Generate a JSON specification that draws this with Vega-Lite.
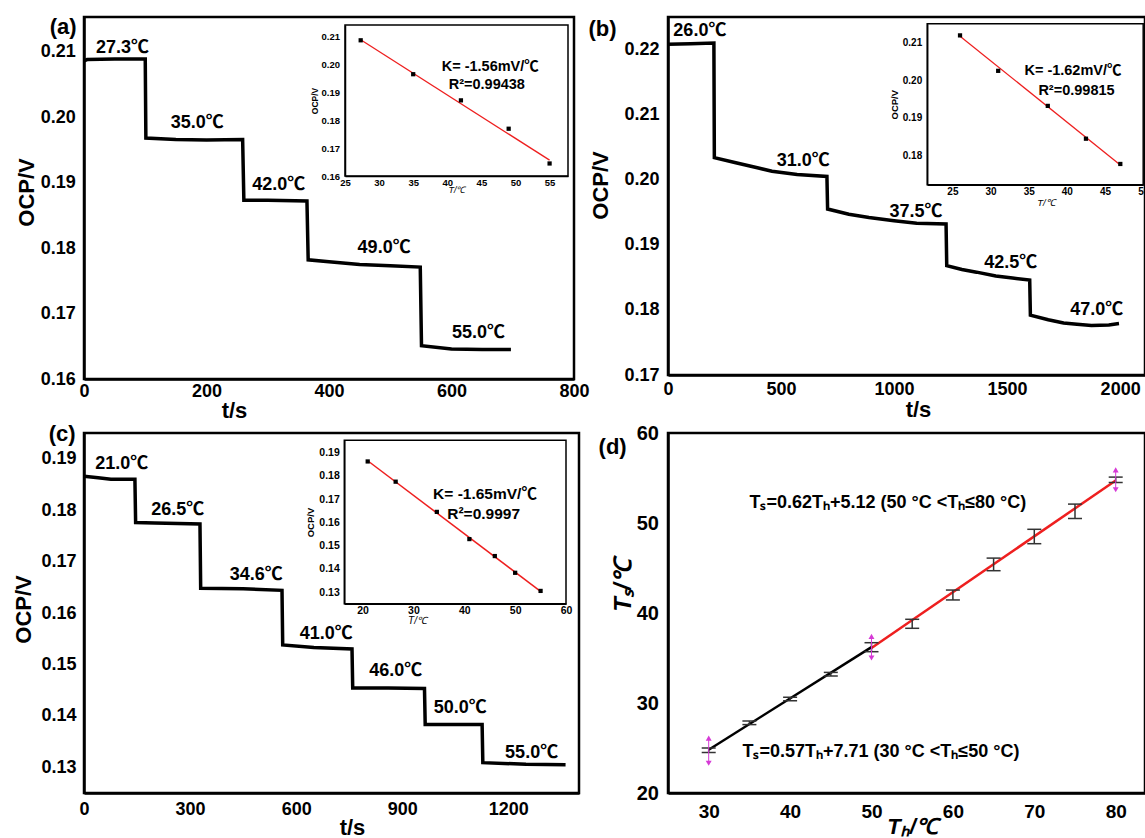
{
"$schema": "https://vega.github.io/schema/vega-lite/v6.json",
"padding": {"left": 10, "top": 14, "right": 0, "bottom": 0},
"background": "white",
"columns": 2,
"bounds": "flush",
"spacing": {"row": 54, "column": 89},
"config": {
  "font": "Liberation Sans",
  "view": {"stroke": "black", "strokeWidth": 2.5},
  "axis": {"domainColor": "black", "domainWidth": 2.5, "tickColor": "black", "tickWidth": 2, "tickSize": 0, "labelColor": "black", "labelFont": "Liberation Sans", "labelFontWeight": "bold", "labelFontSize": 18, "titleFont": "Liberation Sans", "titleFontWeight": "bold", "titleFontSize": 22, "titleColor": "black", "grid": false, "labelFlush": false, "labelOverlap": false},
  "text": {"font": "Liberation Sans, Noto Sans CJK SC", "color": "black"}
},
"datasets": {
  "a_curve": [{"t":0,"v":0.2086},{"t":5,"v":0.2088},{"t":50,"v":0.2089},{"t":100,"v":0.2089},{"t":101,"v":0.1968},{"t":150,"v":0.1966},{"t":200,"v":0.1965},{"t":259,"v":0.1966},{"t":261,"v":0.1873},{"t":300,"v":0.1873},{"t":364,"v":0.1872},{"t":366,"v":0.1782},{"t":400,"v":0.1779},{"t":450,"v":0.1775},{"t":500,"v":0.1773},{"t":549,"v":0.1771},{"t":551,"v":0.1651},{"t":600,"v":0.1646},{"t":650,"v":0.1645},{"t":697,"v":0.1645}],
  "a_labels": [{"t":63,"v":0.2105,"label":"27.3℃"},{"t":185,"v":0.1991,"label":"35.0℃"},{"t":318,"v":0.1896,"label":"42.0℃"},{"t":490,"v":0.18,"label":"49.0℃"},{"t":644,"v":0.167,"label":"55.0℃"}],
  "a_pts": [{"T":27.3,"v":0.2088},{"T":35,"v":0.1966},{"T":42,"v":0.1872},{"T":49,"v":0.177},{"T":55,"v":0.1645}],
  "a_fit": [{"T":27.3,"v":0.209},{"T":55,"v":0.1657}],
  "a_txt": [{"T":46.3,"v":0.1992,"label":"K= -1.56mV/℃"},{"T":45.8,"v":0.1927,"label":"R²=0.99438"}],
  "b_curve": [{"t":0,"v":0.2208},{"t":100,"v":0.2209},{"t":203,"v":0.221},{"t":205,"v":0.2034},{"t":300,"v":0.2026},{"t":400,"v":0.2018},{"t":460,"v":0.2013},{"t":571,"v":0.2008},{"t":703,"v":0.2005},{"t":706,"v":0.1955},{"t":800,"v":0.1947},{"t":889,"v":0.1942},{"t":1000,"v":0.1937},{"t":1100,"v":0.1933},{"t":1230,"v":0.1932},{"t":1233,"v":0.1868},{"t":1300,"v":0.1862},{"t":1365,"v":0.1858},{"t":1450,"v":0.1852},{"t":1524,"v":0.1849},{"t":1600,"v":0.1846},{"t":1603,"v":0.1792},{"t":1682,"v":0.1785},{"t":1750,"v":0.178},{"t":1809,"v":0.1778},{"t":1873,"v":0.1776},{"t":1950,"v":0.1777},{"t":1995,"v":0.1779}],
  "b_labels": [{"t":141,"v":0.2228,"label":"26.0℃"},{"t":598,"v":0.2029,"label":"31.0℃"},{"t":1097,"v":0.195,"label":"37.5℃"},{"t":1516,"v":0.1872,"label":"42.5℃"},{"t":1897,"v":0.18,"label":"47.0℃"}],
  "b_pts": [{"T":26,"v":0.2119},{"T":31,"v":0.2025},{"T":37.5,"v":0.1932},{"T":42.5,"v":0.1845},{"T":47,"v":0.1778}],
  "b_fit": [{"T":26,"v":0.2117},{"T":47,"v":0.1775}],
  "b_txt": [{"T":40.8,"v":0.2024,"label":"K= -1.62mV/℃"},{"T":41.26,"v":0.1972,"label":"R²=0.99815"}],
  "c_curve": [{"t":0,"v":0.1866},{"t":40,"v":0.1863},{"t":76,"v":0.186},{"t":144,"v":0.186},{"t":146,"v":0.1776},{"t":200,"v":0.1775},{"t":328,"v":0.1773},{"t":330,"v":0.1648},{"t":450,"v":0.1647},{"t":560,"v":0.1644},{"t":562,"v":0.1538},{"t":650,"v":0.1533},{"t":758,"v":0.153},{"t":760,"v":0.1454},{"t":860,"v":0.1454},{"t":963,"v":0.1453},{"t":965,"v":0.1383},{"t":1050,"v":0.1383},{"t":1126,"v":0.1383},{"t":1128,"v":0.1309},{"t":1250,"v":0.1306},{"t":1362,"v":0.1305}],
  "c_labels": [{"t":107,"v":0.189,"label":"21.0℃"},{"t":265,"v":0.1801,"label":"26.5℃"},{"t":487,"v":0.1673,"label":"34.6℃"},{"t":685,"v":0.156,"label":"41.0℃"},{"t":882,"v":0.1487,"label":"46.0℃"},{"t":1064,"v":0.1415,"label":"50.0℃"},{"t":1266,"v":0.1327,"label":"55.0℃"}],
  "c_pts": [{"T":21,"v":0.1862},{"T":26.5,"v":0.1775},{"T":34.6,"v":0.1645},{"T":41,"v":0.1528},{"T":46,"v":0.1455},{"T":50,"v":0.1383},{"T":55,"v":0.1305}],
  "c_fit": [{"T":21,"v":0.1865},{"T":55,"v":0.1303}],
  "c_txt": [{"T":44.07,"v":0.1721,"label":"K= -1.65mV/℃"},{"T":43.8,"v":0.1635,"label":"R²=0.9997"}],
  "d_fit": [{"Th":30,"Ts":24.81,"seg":"low"},{"Th":50,"Ts":36.21,"seg":"low"},{"Th":50,"Ts":36.12,"seg":"high"},{"Th":80,"Ts":54.72,"seg":"high"}],
  "d_err": [{"Th":30,"lo":24.5,"hi":25.0},{"Th":35,"lo":27.6,"hi":28.0},{"Th":40,"lo":30.25,"hi":30.65},{"Th":45,"lo":33.0,"hi":33.4},{"Th":50,"lo":35.7,"hi":36.7},{"Th":55,"lo":38.3,"hi":39.3},{"Th":60,"lo":41.45,"hi":42.55},{"Th":65,"lo":44.7,"hi":46.1},{"Th":70,"lo":47.7,"hi":49.3},{"Th":75,"lo":50.5,"hi":52.1},{"Th":80,"lo":54.5,"hi":55.1}],
  "d_mag": [{"Th":30,"lo":23.3,"hi":26.1},{"Th":50,"lo":35.0,"hi":37.4},{"Th":80,"lo":53.7,"hi":55.9}],
  "d_txt": [{"Th":35.0,"Ts":52.2,"label":"Tₛ=0.62Tₕ+5.12 (50 °C <Tₕ≤80 °C)"},{"Th":34.15,"Ts":24.6,"label":"Tₛ=0.57Tₕ+7.71 (30 °C <Tₕ≤50 °C)"}]
},
"concat": [
   {
    "width": 490, "height": 362,
    "resolve": {"scale": {"x": "independent", "y": "independent"}},
    "layer": [
     {"layer": [
       {"data": {"name": "a_curve"}, "mark": {"type": "line", "color": "black", "strokeWidth": 3.5},
        "encoding": {
         "x": {"field": "t", "type": "quantitative", "scale": {"domain": [0, 800], "nice": false, "zero": false},
               "axis": {"title": "t/s", "values": [0,100,200,300,400,500,600,700,800], "labelExpr": "datum.value % 200 == 0 ? datum.label : ''", "labelOverlap": false, "labelPadding": 3, "titleX": 150, "titleY": 31, "titleAlign": "center", "titleBaseline": "middle", "encode": {"ticks": {"update": {"y2": {"value": -5}}}}}},
         "y": {"field": "v", "type": "quantitative", "scale": {"domain": [0.16, 0.2153], "nice": false, "zero": false},
               "axis": {"title": "OCP/V", "values": [0.16,0.165,0.17,0.175,0.18,0.185,0.19,0.195,0.2,0.205,0.21,0.215], "labelExpr": "round(datum.value*1000) % 10 == 0 ? format(datum.value, '.2f') : ''", "labelOverlap": false, "labelPadding": 8.7, "titleX": -58, "titleY": 175, "titleAngle": 270, "titleAlign": "center", "titleBaseline": "middle", "encode": {"ticks": {"update": {"x2": {"value": 5}}}}}}
        }},
       {"data": {"name": "a_labels"}, "mark": {"type": "text", "fontSize": 18, "fontWeight": "bold"},
        "encoding": {"x": {"field": "t", "type": "quantitative"}, "y": {"field": "v", "type": "quantitative"}, "text": {"field": "label"}}},
       {"data": {"values": [{"t": -34, "v": 0.2138, "label": "(a)"}]}, "mark": {"type": "text", "fontSize": 22, "fontWeight": "bold"},
        "encoding": {"x": {"field": "t", "type": "quantitative"}, "y": {"field": "v", "type": "quantitative"}, "text": {"field": "label"}}}
     ]},
     {"layer": [
       {"data": {"values": [{}]}, "mark": {"type": "rect", "fill": "white", "stroke": "black", "strokeWidth": 1.5},
        "encoding": {"x": {"datum": 25, "type": "quantitative"}, "x2": {"datum": 57.7}, "y": {"datum": 0.16, "type": "quantitative"}, "y2": {"datum": 0.2143}}},
       {"data": {"name": "a_fit"}, "mark": {"type": "line", "color": "#ee1f1f", "strokeWidth": 1.3},
        "encoding": {
         "x": {"field": "T", "type": "quantitative", "scale": {"domain": [25, 57.7], "range": [261, 484], "nice": false, "zero": false},
               "axis": {"orient": "bottom", "offset": -203, "zindex": 1, "title": "T/℃", "values": [25,27.5,30,32.5,35,37.5,40,42.5,45,47.5,50,52.5,55,57.5], "labelExpr": "datum.value % 5 == 0 ? datum.label : ''", "labelOverlap": false, "labelFontSize": 9.5, "labelPadding": 1, "tickWidth": 1, "domainWidth": 1.5, "titleFontSize": 9, "titleFontWeight": "normal", "titleFontStyle": "italic", "titlePadding": -1, "encode": {"ticks": {"update": {"y2": {"value": -3}}}}}},
         "y": {"field": "v", "type": "quantitative", "scale": {"domain": [0.16, 0.2143], "range": [159, 8], "nice": false, "zero": false},
               "axis": {"orient": "left", "offset": -261, "zindex": 1, "title": "OCP/V", "values": [0.16,0.165,0.17,0.175,0.18,0.185,0.19,0.195,0.2,0.205,0.21], "labelExpr": "round(datum.value*1000) % 10 == 0 ? format(datum.value, '.2f') : ''", "labelOverlap": false, "labelFontSize": 9.5, "labelPadding": 5.5, "tickWidth": 1, "domainWidth": 1.5, "titleFontSize": 8.5, "titlePadding": 2, "encode": {"ticks": {"update": {"x2": {"value": 3}}}}}}
        }},
       {"data": {"name": "a_pts"}, "mark": {"type": "point", "shape": "square", "filled": true, "color": "black", "size": 18, "opacity": 1},
        "encoding": {"x": {"field": "T", "type": "quantitative"}, "y": {"field": "v", "type": "quantitative"}}},
       {"data": {"name": "a_txt"}, "mark": {"type": "text", "fontSize": 14.5, "fontWeight": "bold"},
        "encoding": {"x": {"field": "T", "type": "quantitative"}, "y": {"field": "v", "type": "quantitative"}, "text": {"field": "label"}}}
     ]}
    ]
   },
   {
    "width": 477, "height": 358,
    "resolve": {"scale": {"x": "independent", "y": "independent"}},
    "layer": [
     {"layer": [
       {"data": {"name": "b_curve"}, "mark": {"type": "line", "color": "black", "strokeWidth": 3.5},
        "encoding": {
         "x": {"field": "t", "type": "quantitative", "scale": {"domain": [0, 2110], "nice": false, "zero": false},
               "axis": {"title": "t/s", "values": [0,250,500,750,1000,1250,1500,1750,2000], "labelExpr": "datum.value % 500 == 0 ? datum.label : ''", "labelOverlap": false, "format": "d", "labelPadding": 5.6, "titleX": 250, "titleY": 34, "titleAlign": "center", "titleBaseline": "middle", "encode": {"ticks": {"update": {"y2": {"value": -5}}}}}},
         "y": {"field": "v", "type": "quantitative", "scale": {"domain": [0.17, 0.225], "nice": false, "zero": false},
               "axis": {"title": "OCP/V", "values": [0.17,0.175,0.18,0.185,0.19,0.195,0.2,0.205,0.21,0.215,0.22], "labelExpr": "round(datum.value*1000) % 10 == 0 ? format(datum.value, '.2f') : ''", "labelOverlap": false, "labelPadding": 9, "titleX": -67.5, "titleY": 168, "titleAngle": 270, "titleAlign": "center", "titleBaseline": "middle", "encode": {"ticks": {"update": {"x2": {"value": 5}}}}}}
        }},
       {"data": {"name": "b_labels"}, "mark": {"type": "text", "fontSize": 18, "fontWeight": "bold"},
        "encoding": {"x": {"field": "t", "type": "quantitative"}, "y": {"field": "v", "type": "quantitative"}, "text": {"field": "label"}}},
       {"data": {"values": [{"t": -290, "v": 0.2232, "label": "(b)"}]}, "mark": {"type": "text", "fontSize": 22, "fontWeight": "bold"},
        "encoding": {"x": {"field": "t", "type": "quantitative"}, "y": {"field": "v", "type": "quantitative"}, "text": {"field": "label"}}}
     ]},
     {"layer": [
       {"data": {"values": [{}]}, "mark": {"type": "rect", "fill": "white", "stroke": "black", "strokeWidth": 1.5},
        "encoding": {"x": {"datum": 21.7, "type": "quantitative"}, "x2": {"datum": 50}, "y": {"datum": 0.1723, "type": "quantitative"}, "y2": {"datum": 0.215}}},
       {"data": {"name": "b_fit"}, "mark": {"type": "line", "color": "#ee1f1f", "strokeWidth": 1.3},
        "encoding": {
         "x": {"field": "T", "type": "quantitative", "scale": {"domain": [21.7, 50], "range": [259.2, 475.2], "nice": false, "zero": false},
               "axis": {"orient": "bottom", "offset": -190.3, "zindex": 1, "title": "T/℃", "titleX": 377.5, "values": [22.5,25,27.5,30,32.5,35,37.5,40,42.5,45,47.5,50], "labelExpr": "datum.value % 5 == 0 ? datum.label : ''", "labelOverlap": false, "labelFontSize": 10, "labelPadding": 2, "tickWidth": 1, "domainWidth": 1.5, "titleFontSize": 9.5, "titleFontWeight": "normal", "titleFontStyle": "italic", "titlePadding": 1, "encode": {"ticks": {"update": {"y2": {"value": -3}}}}}},
         "y": {"field": "v", "type": "quantitative", "scale": {"domain": [0.1723, 0.215], "range": [167.7, 6.7], "nice": false, "zero": false},
               "axis": {"orient": "left", "offset": -259.2, "zindex": 1, "title": "OCP/V", "values": [0.175,0.18,0.185,0.19,0.195,0.2,0.205,0.21,0.215], "labelExpr": "round(datum.value*1000) % 10 == 0 ? format(datum.value, '.2f') : ''", "labelOverlap": false, "labelFontSize": 10, "labelPadding": 5.5, "tickWidth": 1, "domainWidth": 1.5, "titleFontSize": 9.5, "titlePadding": 3, "encode": {"ticks": {"update": {"x2": {"value": 3}}}}}}
        }},
       {"data": {"name": "b_pts"}, "mark": {"type": "point", "shape": "square", "filled": true, "color": "black", "size": 18, "opacity": 1},
        "encoding": {"x": {"field": "T", "type": "quantitative"}, "y": {"field": "v", "type": "quantitative"}}},
       {"data": {"name": "b_txt"}, "mark": {"type": "text", "fontSize": 14.5, "fontWeight": "bold"},
        "encoding": {"x": {"field": "T", "type": "quantitative"}, "y": {"field": "v", "type": "quantitative"}, "text": {"field": "label"}}}
     ]}
    ]
   },
   {
    "width": 495, "height": 360,
    "resolve": {"scale": {"x": "independent", "y": "independent"}},
    "layer": [
     {"layer": [
       {"data": {"name": "c_curve"}, "mark": {"type": "line", "color": "black", "strokeWidth": 3.5},
        "encoding": {
         "x": {"field": "t", "type": "quantitative", "scale": {"domain": [0, 1400], "nice": false, "zero": false},
               "axis": {"title": "t/s", "values": [0,150,300,450,600,750,900,1050,1200,1350], "labelExpr": "datum.value % 300 == 0 ? datum.label : ''", "labelOverlap": false, "format": "d", "labelPadding": 7.6, "titleX": 268, "titleY": 34.5, "titleAlign": "center", "titleBaseline": "middle", "encode": {"ticks": {"update": {"y2": {"value": -5}}}}}},
         "y": {"field": "v", "type": "quantitative", "scale": {"domain": [0.125, 0.195], "nice": false, "zero": false},
               "axis": {"title": "OCP/V", "values": [0.13,0.135,0.14,0.145,0.15,0.155,0.16,0.165,0.17,0.175,0.18,0.185,0.19], "labelExpr": "round(datum.value*1000) % 10 == 0 ? format(datum.value, '.2f') : ''", "labelOverlap": false, "labelPadding": 8, "titleX": -61, "titleY": 176, "titleAngle": 270, "titleAlign": "center", "titleBaseline": "middle", "encode": {"ticks": {"update": {"x2": {"value": 5}}}}}}
        }},
       {"data": {"name": "c_labels"}, "mark": {"type": "text", "fontSize": 18, "fontWeight": "bold"},
        "encoding": {"x": {"field": "t", "type": "quantitative"}, "y": {"field": "v", "type": "quantitative"}, "text": {"field": "label"}}},
       {"data": {"values": [{"t": -62, "v": 0.1949, "label": "(c)"}]}, "mark": {"type": "text", "fontSize": 22, "fontWeight": "bold"},
        "encoding": {"x": {"field": "t", "type": "quantitative"}, "y": {"field": "v", "type": "quantitative"}, "text": {"field": "label"}}}
     ]},
     {"layer": [
       {"data": {"values": [{}]}, "mark": {"type": "rect", "fill": "white", "stroke": "black", "strokeWidth": 1.5},
        "encoding": {"x": {"datum": 16.4, "type": "quantitative"}, "x2": {"datum": 60}, "y": {"datum": 0.125, "type": "quantitative"}, "y2": {"datum": 0.1953}}},
       {"data": {"name": "c_fit"}, "mark": {"type": "line", "color": "#ee1f1f", "strokeWidth": 1.5},
        "encoding": {
         "x": {"field": "T", "type": "quantitative", "scale": {"domain": [16.4, 60], "range": [260.3, 482], "nice": false, "zero": false},
               "axis": {"orient": "bottom", "offset": -189.3, "zindex": 1, "title": "T/℃", "titleX": 333, "values": [20,25,30,35,40,45,50,55,60], "labelExpr": "datum.value % 10 == 0 ? datum.label : ''", "labelOverlap": false, "labelFontSize": 10.5, "labelPadding": 2, "tickWidth": 1, "domainWidth": 1.5, "titleFontSize": 10, "titleFontWeight": "normal", "titleFontStyle": "italic", "titlePadding": -1, "encode": {"ticks": {"update": {"y2": {"value": -3}}}}}},
         "y": {"field": "v", "type": "quantitative", "scale": {"domain": [0.125, 0.1953], "range": [170.7, 7.3], "nice": false, "zero": false},
               "axis": {"orient": "left", "offset": -260.3, "zindex": 1, "title": "OCP/V", "values": [0.13,0.135,0.14,0.145,0.15,0.155,0.16,0.165,0.17,0.175,0.18,0.185,0.19,0.195], "labelExpr": "round(datum.value*1000) % 10 == 0 ? format(datum.value, '.2f') : ''", "labelOverlap": false, "labelFontSize": 10.5, "labelPadding": 5, "tickWidth": 1, "domainWidth": 1.5, "titleFontSize": 9.5, "titlePadding": 3, "encode": {"ticks": {"update": {"x2": {"value": 3}}}}}}
        }},
       {"data": {"name": "c_pts"}, "mark": {"type": "point", "shape": "square", "filled": true, "color": "black", "size": 18, "opacity": 1},
        "encoding": {"x": {"field": "T", "type": "quantitative"}, "y": {"field": "v", "type": "quantitative"}}},
       {"data": {"name": "c_txt"}, "mark": {"type": "text", "fontSize": 15.5, "fontWeight": "bold"},
        "encoding": {"x": {"field": "T", "type": "quantitative"}, "y": {"field": "v", "type": "quantitative"}, "text": {"field": "label"}}}
     ]}
    ]
   },
   {
    "width": 477, "height": 360,
    "layer": [
     {"data": {"name": "d_fit"}, "mark": {"type": "line", "strokeWidth": 2.5},
      "encoding": {
       "x": {"field": "Th", "type": "quantitative", "scale": {"domain": [25, 83.6], "nice": false, "zero": false},
             "axis": {"title": "Tₕ/℃", "titleFontStyle": "italic", "titleFontSize": 22, "labelFontSize": 19, "values": [30,35,40,45,50,55,60,65,70,75,80], "labelExpr": "datum.value % 10 == 0 ? datum.label : ''", "labelOverlap": false, "labelPadding": 9, "titleX": 244, "titleY": 33, "titleAlign": "center", "titleBaseline": "middle", "encode": {"ticks": {"update": {"y2": {"value": -5}}}}}},
       "y": {"field": "Ts", "type": "quantitative", "scale": {"domain": [20, 60], "nice": false, "zero": false},
             "axis": {"title": "Tₛ/℃", "titleFontStyle": "italic", "titleFontSize": 24, "labelFontSize": 20, "values": [20,25,30,35,40,45,50,55,60], "labelExpr": "datum.value % 10 == 0 ? datum.label : ''", "labelOverlap": false, "labelPadding": 9.6, "titleX": -45, "titleY": 152, "titleAngle": 270, "titleAlign": "center", "titleBaseline": "middle", "encode": {"ticks": {"update": {"x2": {"value": 5}}}}}},
       "color": {"field": "seg", "type": "nominal", "scale": {"domain": ["low", "high"], "range": ["black", "#ee1f1f"]}, "legend": null}
      }},
     {"data": {"name": "d_err"}, "mark": {"type": "rule", "color": "#333333", "strokeWidth": 1.5},
      "encoding": {"x": {"field": "Th", "type": "quantitative"}, "y": {"field": "lo", "type": "quantitative"}, "y2": {"field": "hi"}}},
     {"data": {"name": "d_err"}, "mark": {"type": "tick", "orient": "horizontal", "color": "#333333", "size": 14, "thickness": 1.5, "opacity": 1},
      "encoding": {"x": {"field": "Th", "type": "quantitative"}, "y": {"field": "lo", "type": "quantitative"}}},
     {"data": {"name": "d_err"}, "mark": {"type": "tick", "orient": "horizontal", "color": "#333333", "size": 14, "thickness": 1.5, "opacity": 1},
      "encoding": {"x": {"field": "Th", "type": "quantitative"}, "y": {"field": "hi", "type": "quantitative"}}},
     {"data": {"name": "d_mag"}, "mark": {"type": "rule", "color": "#d63ad6", "strokeWidth": 1},
      "encoding": {"x": {"field": "Th", "type": "quantitative"}, "y": {"field": "lo", "type": "quantitative"}, "y2": {"field": "hi"}}},
     {"data": {"name": "d_mag"}, "mark": {"type": "point", "shape": "triangle-up", "filled": true, "color": "#d63ad6", "size": 35, "opacity": 1},
      "encoding": {"x": {"field": "Th", "type": "quantitative"}, "y": {"field": "hi", "type": "quantitative"}}},
     {"data": {"name": "d_mag"}, "mark": {"type": "point", "shape": "triangle-down", "filled": true, "color": "#d63ad6", "size": 35, "opacity": 1},
      "encoding": {"x": {"field": "Th", "type": "quantitative"}, "y": {"field": "lo", "type": "quantitative"}}},
     {"data": {"name": "d_txt"}, "mark": {"type": "text", "fontSize": 18, "fontWeight": "bold", "align": "left"},
      "encoding": {"x": {"field": "Th", "type": "quantitative"}, "y": {"field": "Ts", "type": "quantitative"}, "text": {"field": "label"}}},
     {"data": {"values": [{"Th": 18.2, "Ts": 58.4, "label": "(d)"}]}, "mark": {"type": "text", "fontSize": 22, "fontWeight": "bold"},
      "encoding": {"x": {"field": "Th", "type": "quantitative"}, "y": {"field": "Ts", "type": "quantitative"}, "text": {"field": "label"}}}
    ]
   }
]
}
